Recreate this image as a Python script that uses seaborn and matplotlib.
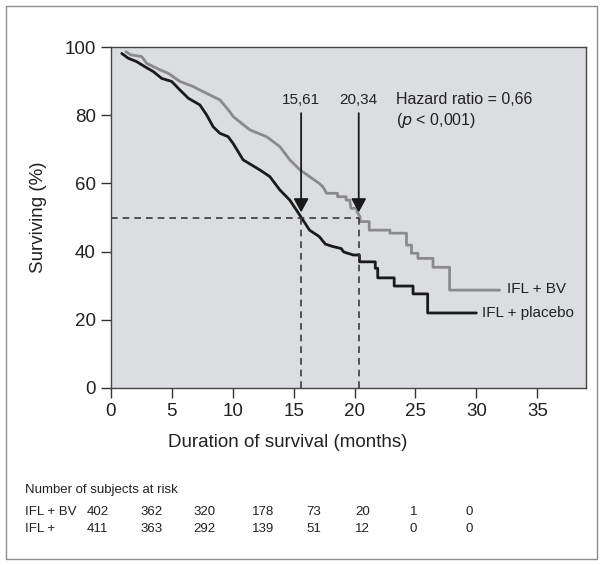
import numpy as np
import pandas as pd
import matplotlib.pyplot as plt
from matplotlib.patches import Rectangle
import seaborn as sns

# Kaplan-Meier curves (months, % surviving).
# Early part is a dense run of tiny steps, read as a jagged line; later
# steps are given by both corners.
bv_months = [1.23, 1.62, 2.52, 2.93, 4.02, 4.70, 5.66, 6.75, 7.85, 8.94, 9.76,
             10.03, 11.4, 12.77, 13.86, 14.68, 15.5, 16.3, 17.1, 17.4, 17.7,
             18.6, 18.6, 19.3, 19.3, 19.6, 19.7, 20.2, 20.2, 20.45, 20.45,
             21.2, 21.2, 22.9, 22.9, 24.26, 24.26, 24.67, 24.67, 25.2, 25.2,
             26.44, 26.44, 27.8, 27.8, 31.9]
bv_surv = [98.6, 97.7, 97.2, 95.2, 93.3, 92.3, 89.9, 88.4, 86.4, 84.5, 81.0,
           79.6, 75.7, 73.7, 70.8, 66.9, 64.0, 62.0, 60.0, 59.0, 57.1,
           57.1, 56.1, 56.1, 55.1, 55.1, 52.7, 52.7, 51.7, 50.2, 48.8,
           48.8, 46.3, 46.3, 45.4, 45.4, 41.9, 41.9, 39.5, 39.5, 38.0,
           38.0, 35.4, 35.4, 28.7, 28.7]

pl_months = [0.88, 1.42, 2.11, 2.79, 3.47, 4.16, 4.98, 5.66, 6.34, 7.3, 7.85,
             8.39, 8.94, 9.62, 10.03, 10.85, 12.2, 13.04, 13.86, 14.68, 15.5,
             16.3, 17.1, 17.6, 18.2, 18.9, 19.1, 19.9, 20.4, 20.4, 21.7, 21.7,
             21.9, 21.9, 23.25, 23.25, 24.8, 24.8, 26.0, 26.0, 30.0]
pl_surv = [98.1, 96.7, 95.7, 94.2, 92.8, 90.8, 89.9, 87.4, 85.0, 83.0, 80.1,
           76.6, 74.7, 73.7, 71.7, 66.9, 64.0, 62.0, 58.1, 55.1, 50.7,
           46.3, 44.4, 42.2, 41.5, 40.9, 39.9, 39.0, 39.0, 37.0, 37.0, 35.1,
           35.1, 32.3, 32.3, 29.9, 29.9, 27.6, 27.6, 22.0, 22.0]

medians = [15.61, 20.34]
median_labels = ["15,61", "20,34"]

risk_groups = ["IFL + BV", "IFL +"]
risk_bv = [402, 362, 320, 178, 73, 20, 1, 0]
risk_pl = [411, 363, 292, 139, 51, 12, 0, 0]

W, H = 603, 565

sns.set_theme(style="ticks")
plt.rcParams["font.family"] = ["Liberation Sans", "DejaVu Sans"]

fig = plt.figure(figsize=(W / 100, H / 100), dpi=100)
ax = fig.add_axes([111 / W, 1 - 388 / H, 475 / W, 341 / H])
ax.set_facecolor("#dcdde0")

bv = pd.DataFrame({"months": bv_months, "surv": bv_surv})
pl = pd.DataFrame({"months": pl_months, "surv": pl_surv})
sns.lineplot(data=bv, x="months", y="surv", ax=ax, color="#8a8a8a", lw=2.0,
             estimator=None, sort=False)
sns.lineplot(data=pl, x="months", y="surv", ax=ax, color="#1a1a1a", lw=2.0,
             estimator=None, sort=False)

# median lines
dash = dict(color="#3a3a3a", lw=1.2, ls=(0, (4, 3)))
ax.plot([0, medians[1]], [50, 50], **dash)
for m in medians:
    ax.plot([m, m], [0, 50], **dash)
    ax.annotate("", xy=(m, 51.5), xytext=(m, 80.6),
                arrowprops=dict(arrowstyle="-|>,head_length=0.55,head_width=0.3",
                                mutation_scale=15, color="#1a1a1a", lw=1.3,
                                shrinkA=0, shrinkB=0))
for m, lab in zip(medians, median_labels):
    ax.text(m, 84.5, lab, ha="center", va="center", fontsize=11, color="#222222")

ax.text(23.4, 84.5, "Hazard ratio = 0,66", ha="left", va="center",
        fontsize=11.5, color="#222222")
ax.text(23.4, 78.5, "($p$ < 0,001)", ha="left", va="center",
        fontsize=11.5, color="#222222")
ax.text(32.5, 29.0, "IFL + BV", ha="left", va="center", fontsize=11, color="#222222")
ax.text(30.5, 22.0, "IFL + placebo", ha="left", va="center", fontsize=11, color="#222222")

ax.set_xlim(0, 39)
ax.set_ylim(0, 100)
ax.set_xticks(np.arange(0, 40, 5))
ax.set_yticks(np.arange(0, 101, 20))
ax.tick_params(direction="out", length=7, width=1, colors="#333333",
               labelsize=13.5, labelcolor="#222222", pad=4)
for s in ax.spines.values():
    s.set_color("#444444")
    s.set_linewidth(1.0)

ax.set_xlabel("Duration of survival (months)", fontsize=13.5, color="#222222")
ax.set_ylabel("Surviving (%)", fontsize=13.5, color="#222222")
ax.xaxis.set_label_coords(0.373, -0.135)
ax.yaxis.set_label_coords(-0.135, 0.5)

# number at risk table
fig.text(24.7 / W, 1 - 490 / H, "Number of subjects at risk", fontsize=9.5,
         va="center", color="#222222")
col_x = [87, 140, 193, 252, 306, 355, 410, 465]
for row_y, name, vals in zip([511.7, 529.3], risk_groups, [risk_bv, risk_pl]):
    fig.text(24.7 / W, 1 - row_y / H, name, fontsize=9.5, va="center", color="#222222")
    for cx, v in zip(col_x, vals):
        fig.text(cx / W, 1 - row_y / H, str(v), fontsize=9.5, va="center", color="#222222")

fig.patches.append(Rectangle((6 / W, 6 / H), (W - 12) / W, (H - 12) / H,
                             transform=fig.transFigure, fill=False,
                             edgecolor="#8c8c8c", lw=1.0))

fig.savefig("out.png", dpi=100)
